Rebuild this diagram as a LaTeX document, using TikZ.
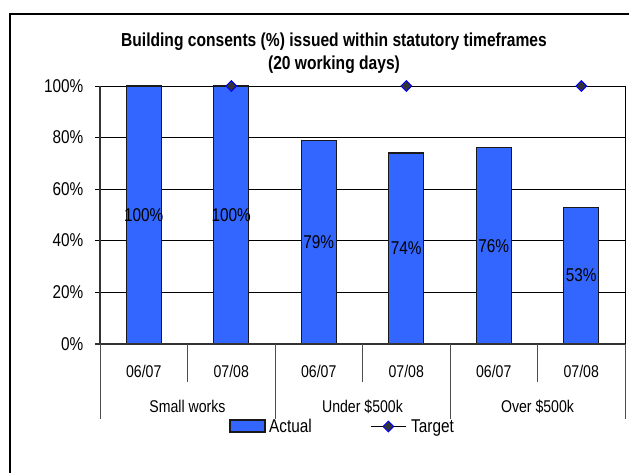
\documentclass[tikz,border=0pt]{standalone}
\usepackage{fontspec}
\setmainfont{Liberation Sans}[FakeStretch=0.83]
\usepackage{tikz}
\usetikzlibrary{positioning}
\usetikzlibrary{shapes.geometric}
\definecolor{barblue}{RGB}{51,102,255}
\definecolor{markgray}{RGB}{51,51,51}
\tikzset{bar/.style = {draw = black!90, fill = barblue, line width = 1.2pt}}
\tikzset{gridline/.style = {draw = black, line width = 0.8pt}}
\tikzset{axisline/.style = {draw = black!80, line width = 1.6pt}}
\tikzset{divider/.style = {draw = black!70, line width = 1pt}}
\tikzset{tgt/.style = {diamond, draw = blue, fill = markgray, line width = 1pt, inner sep = 0, minimum size = 11}}
\tikzset{lbl/.style = {font = \fontsize{18.5}{21}\selectfont, inner sep = 0}}
\tikzset{catlbl/.style = {font = \fontsize{17}{19}\selectfont, inner sep = 0}}

\begin{document}
\begin{tikzpicture}[x = 1pt, y = -1pt]
    \useasboundingbox (0, 0) rectangle (629, 473);
    \draw [line width = 2pt] (9.5, 473) -- (9.5, 13.7) -- (629, 13.7);

    \node [align = center, inner sep = 0, font = \fontsize{18.8}{23}\selectfont\bfseries] (title) at (334, 53.5) {Building consents (\%) issued within statutory timeframes\\(20 working days)};

    \foreach \p in {20, 40, 60, 80, 100} {
        \draw [gridline] (95, 343.7 - 2.577 * \p) -- (625, 343.7 - 2.577 * \p);
    }
    \draw [gridline] (625, 86) -- (625, 343.7);
    \foreach \p in {0, 20, 40, 60, 80, 100} {
        \node [lbl, anchor = east] (y\p) at (83.5, 343.7 - 2.577 * \p) {\p\%};
    }

    \foreach \i/\v in {1/100, 2/100, 3/79, 4/74, 5/76, 6/53} {
        \draw [bar] (56.25 + 87.5 * \i - 17.5, 343.7) rectangle (56.25 + 87.5 * \i + 17.5, 343.7 - 2.577 * \v);
        \node [lbl] (val\i) at (56.25 + 87.5 * \i, 343.7 - 1.2885 * \v) {\v\%};
    }

    \foreach \i in {2, 4, 6} {
        \node [tgt] (tgt\i) at (56.25 + 87.5 * \i, 86) {};
    }

    \draw [axisline] (100, 86) -- (100, 343.7);
    \draw [axisline] (95, 343.7) -- (625, 343.7);

    \foreach \x in {100, 275, 450, 625} {
        \draw [divider] (\x, 343.7) -- (\x, 419);
    }
    \foreach \x in {187.5, 362.5, 537.5} {
        \draw [divider] (\x, 343.7) -- (\x, 382);
    }

    \foreach \i/\t in {1/06\slash 07, 2/07\slash 08, 3/06\slash 07, 4/07\slash 08, 5/06\slash 07, 6/07\slash 08} {
        \node [catlbl] (cat\i) at (56.25 + 87.5 * \i, 371.7) {\t};
    }
    \node [catlbl] (small) at (187.5, 406.7) {Small works};
    \node [catlbl] (under) at (362.5, 406.7) {Under \$500k};
    \node [catlbl] (over) at (537.5, 406.7) {Over \$500k};

    \node [bar, minimum width = 35, minimum height = 12, inner sep = 0] (actbox) at (247.5, 426) {};
    \node [lbl, anchor = base west] (actual) at (269, 432.5) {Actual};
    \coordinate (tl) at (370.7, 426.5);
    \coordinate (tr) at (406, 426.5);
    \draw [black, line width = 1pt] (tl) -- (tr);
    \node [tgt] (tgtkey) at (388.3, 426.5) {};
    \node [lbl, anchor = base west] (target) at (411, 432.5) {Target};
\end{tikzpicture}
\end{document}
